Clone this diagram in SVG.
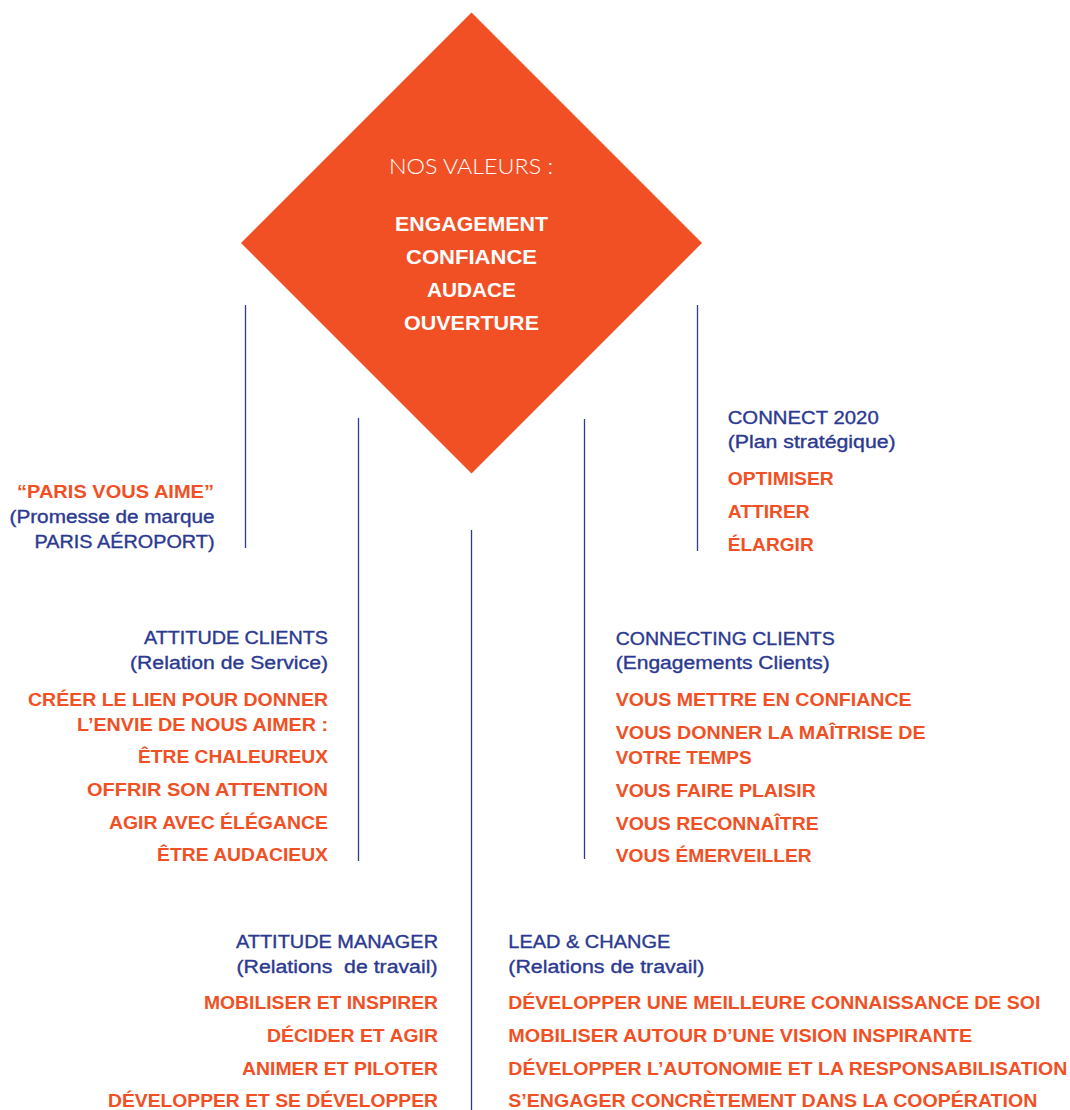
<svg xmlns="http://www.w3.org/2000/svg" width="1070" height="1110" viewBox="0 0 1070 1110">
<style>
  .o{font-family:"Liberation Sans",Arial,sans-serif;font-weight:700;font-size:18px;fill:#f15025}
  .n{font-family:"Liberation Sans",Arial,sans-serif;font-weight:400;font-size:18px;fill:#2b3990;stroke:#2b3990;stroke-width:0.35px}
  .w{font-family:"Liberation Sans",Arial,sans-serif;font-weight:700;font-size:21px;fill:#ffffff}
  .wl{font-family:Lato,"Liberation Sans",Arial,sans-serif;font-weight:300;font-size:21px;fill:#ffffff}
  .ln{stroke:#2e3a94;stroke-width:1.3;fill:none}
  .pre{white-space:pre}
</style>
<rect width="1070" height="1110" fill="#ffffff"/>
<g id="connectors">
  <line class="ln" x1="245.5" y1="305" x2="245.5" y2="548"/>
  <line class="ln" x1="358.5" y1="418" x2="358.5" y2="861"/>
  <line class="ln" x1="471.5" y1="530" x2="471.5" y2="1110"/>
  <line class="ln" x1="584.5" y1="419" x2="584.5" y2="859"/>
  <line class="ln" x1="697.5" y1="305" x2="697.5" y2="551"/>
</g>
<g id="valeurs">
  <polygon points="471.5,12.5 702,243 471.5,473.5 241,243" fill="#f15025"/>
  <text class="wl" x="389" y="174" textLength="164" lengthAdjust="spacingAndGlyphs">NOS VALEURS :</text>
  <text class="w" x="395" y="231" textLength="153" lengthAdjust="spacingAndGlyphs">ENGAGEMENT</text>
  <text class="w" x="406" y="263.5" textLength="131" lengthAdjust="spacingAndGlyphs">CONFIANCE</text>
  <text class="w" x="427" y="297" textLength="89" lengthAdjust="spacingAndGlyphs">AUDACE</text>
  <text class="w" x="404" y="330" textLength="135" lengthAdjust="spacingAndGlyphs">OUVERTURE</text>
</g>
<g id="paris-vous-aime">
  <text class="o" x="17" y="498" textLength="197" lengthAdjust="spacingAndGlyphs">“PARIS VOUS AIME”</text>
  <text class="n" x="9.5" y="523" textLength="205" lengthAdjust="spacingAndGlyphs">(Promesse de marque</text>
  <text class="n" x="34.5" y="548" textLength="180" lengthAdjust="spacingAndGlyphs">PARIS AÉROPORT)</text>
</g>
<g id="connect-2020">
  <text class="n" x="727.7" y="423.5" textLength="151" lengthAdjust="spacingAndGlyphs">CONNECT 2020</text>
  <text class="n" x="727.7" y="447.5" textLength="168" lengthAdjust="spacingAndGlyphs">(Plan stratégique)</text>
  <text class="o" x="727.7" y="484.5" textLength="106" lengthAdjust="spacingAndGlyphs">OPTIMISER</text>
  <text class="o" x="727.7" y="517.5" textLength="82" lengthAdjust="spacingAndGlyphs">ATTIRER</text>
  <text class="o" x="727.7" y="551" textLength="86" lengthAdjust="spacingAndGlyphs">ÉLARGIR</text>
</g>
<g id="attitude-clients">
  <text class="n" x="144" y="644" textLength="184" lengthAdjust="spacingAndGlyphs">ATTITUDE CLIENTS</text>
  <text class="n" x="130" y="669" textLength="198" lengthAdjust="spacingAndGlyphs">(Relation de Service)</text>
  <text class="o" x="28" y="706" textLength="300" lengthAdjust="spacingAndGlyphs">CRÉER LE LIEN POUR DONNER</text>
  <text class="o" x="77" y="731" textLength="251" lengthAdjust="spacingAndGlyphs">L’ENVIE DE NOUS AIMER :</text>
  <text class="o" x="138" y="763" textLength="190" lengthAdjust="spacingAndGlyphs">ÊTRE CHALEUREUX</text>
  <text class="o" x="87" y="796" textLength="241" lengthAdjust="spacingAndGlyphs">OFFRIR SON ATTENTION</text>
  <text class="o" x="109" y="829" textLength="219" lengthAdjust="spacingAndGlyphs">AGIR AVEC ÉLÉGANCE</text>
  <text class="o" x="157" y="861" textLength="171" lengthAdjust="spacingAndGlyphs">ÊTRE AUDACIEUX</text>
</g>
<g id="connecting-clients">
  <text class="n" x="615.7" y="645" textLength="219" lengthAdjust="spacingAndGlyphs">CONNECTING CLIENTS</text>
  <text class="n" x="615.7" y="669" textLength="214" lengthAdjust="spacingAndGlyphs">(Engagements Clients)</text>
  <text class="o" x="615.7" y="706" textLength="296" lengthAdjust="spacingAndGlyphs">VOUS METTRE EN CONFIANCE</text>
  <text class="o" x="615.7" y="739" textLength="310" lengthAdjust="spacingAndGlyphs">VOUS DONNER LA MAÎTRISE DE</text>
  <text class="o" x="615.7" y="764" textLength="136" lengthAdjust="spacingAndGlyphs">VOTRE TEMPS</text>
  <text class="o" x="615.7" y="797" textLength="200" lengthAdjust="spacingAndGlyphs">VOUS FAIRE PLAISIR</text>
  <text class="o" x="615.7" y="829.5" textLength="203" lengthAdjust="spacingAndGlyphs">VOUS RECONNAÎTRE</text>
  <text class="o" x="615.7" y="862" textLength="196" lengthAdjust="spacingAndGlyphs">VOUS ÉMERVEILLER</text>
</g>
<g id="attitude-manager">
  <text class="n" x="236" y="947.5" textLength="202" lengthAdjust="spacingAndGlyphs">ATTITUDE MANAGER</text>
  <text class="n pre" x="236.5" y="972.5" textLength="201" lengthAdjust="spacingAndGlyphs">(Relations  de travail)</text>
  <text class="o" x="204" y="1009" textLength="234" lengthAdjust="spacingAndGlyphs">MOBILISER ET INSPIRER</text>
  <text class="o" x="267" y="1042" textLength="171" lengthAdjust="spacingAndGlyphs">DÉCIDER ET AGIR</text>
  <text class="o" x="242" y="1074.5" textLength="196" lengthAdjust="spacingAndGlyphs">ANIMER ET PILOTER</text>
  <text class="o" x="108" y="1107" textLength="330" lengthAdjust="spacingAndGlyphs">DÉVELOPPER ET SE DÉVELOPPER</text>
</g>
<g id="lead-and-change">
  <text class="n" x="508.3" y="947.5" textLength="162" lengthAdjust="spacingAndGlyphs">LEAD &amp; CHANGE</text>
  <text class="n" x="508.3" y="972.5" textLength="196" lengthAdjust="spacingAndGlyphs">(Relations de travail)</text>
  <text class="o" x="508.3" y="1009" textLength="532" lengthAdjust="spacingAndGlyphs">DÉVELOPPER UNE MEILLEURE CONNAISSANCE DE SOI</text>
  <text class="o" x="508.3" y="1042" textLength="464" lengthAdjust="spacingAndGlyphs">MOBILISER AUTOUR D’UNE VISION INSPIRANTE</text>
  <text class="o" x="508.3" y="1074.5" textLength="559" lengthAdjust="spacingAndGlyphs">DÉVELOPPER L’AUTONOMIE ET LA RESPONSABILISATION</text>
  <text class="o" x="508.3" y="1107" textLength="529" lengthAdjust="spacingAndGlyphs">S’ENGAGER CONCRÈTEMENT DANS LA COOPÉRATION</text>
</g>
</svg>
